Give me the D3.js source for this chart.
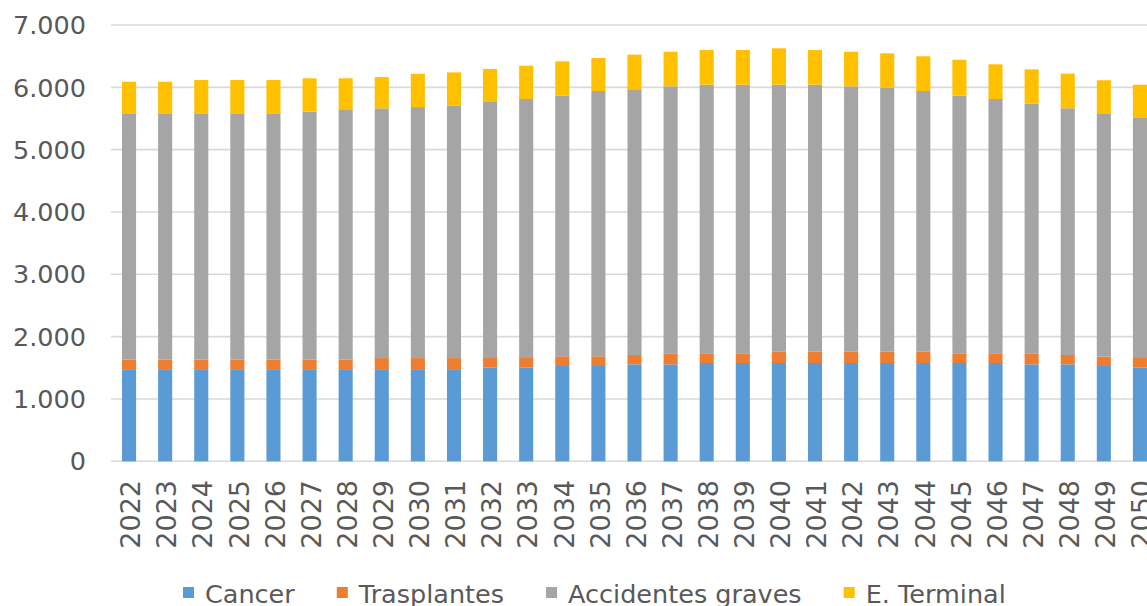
<!DOCTYPE html>
<html>
<head>
<meta charset="utf-8">
<script src="https://cdn.jsdelivr.net/npm/d3@7"></script>
<style>
  html, body { margin: 0; padding: 0; background: #fff; overflow: hidden; }
  svg { display: block; font-family: "DejaVu Sans", Verdana, sans-serif; }
</style>
</head>
<body>
<svg id="chart" width="1147" height="606"></svg>
<script>
const years = ["2022","2023","2024","2025","2026","2027","2028","2029","2030","2031","2032","2033","2034","2035","2036","2037","2038","2039","2040","2041","2042","2043","2044","2045","2046","2047","2048","2049","2050"];
const seriesNames = ["Cancer", "Trasplantes", "Accidentes graves", "E. Terminal"];
const cancer      = [1478,1478,1478,1478,1478,1478,1478,1478,1478,1478,1502,1502,1529,1529,1556,1556,1577,1577,1577,1577,1577,1577,1577,1577,1577,1556,1556,1529,1502];
const trasplantes = [155,155,155,155,155,155,155,178,178,178,155,155,156,156,150,177,156,156,181,181,181,181,181,156,156,177,150,150,155];
const accidentes  = [3950,3950,3950,3950,3950,3976,4003,4006,4027,4054,4108,4156,4180,4256,4263,4283,4309,4309,4284,4284,4258,4236,4183,4132,4080,4004,3958,3905,3851];
const terminal    = [507,507,534,534,534,536,509,502,535,530,529,534,552,529,555,555,557,557,584,557,555,552,557,578,556,552,556,530,534];
const yTicks = [0,1000,2000,3000,4000,5000,6000,7000];
const colors = ["#5B9BD5", "#ED7D31", "#A5A5A5", "#FFC000"];

const table = years.map((y, i) => ({
  year: y,
  "Cancer": cancer[i],
  "Trasplantes": trasplantes[i],
  "Accidentes graves": accidentes[i],
  "E. Terminal": terminal[i]
}));

const svg = d3.select("#chart");
const textColor = "#595959";

const x = d3.scaleBand().domain(years).range([111, 1158]).paddingInner(0.61).paddingOuter(0.305);
const y = d3.scaleLinear().domain([0, 7000]).range([461.3, 25]);

// gridlines
svg.append("g").selectAll("line").data(yTicks).join("line")
  .attr("x1", 111).attr("x2", 1160)
  .attr("y1", d => y(d)).attr("y2", d => y(d))
  .attr("stroke", "#d9d9d9").attr("stroke-width", 1.6);

// y labels
const fmt = d3.formatLocale({decimal: ",", thousands: ".", grouping: [3], currency: ["", "€"]}).format(",d");
svg.append("g").selectAll("text").data(yTicks).join("text")
  .attr("x", 86).attr("y", d => y(d)).attr("dy", "0.36em")
  .attr("text-anchor", "end").attr("fill", textColor)
  .style("font-size", "25.5px")
  .text(d => fmt(d));

// stacked bars
const stack = d3.stack().keys(seriesNames)(table);
svg.append("g").selectAll("g").data(stack).join("g")
  .attr("fill", (d, i) => colors[i])
  .selectAll("rect").data(d => d).join("rect")
  .attr("x", d => x(d.data.year))
  .attr("width", x.bandwidth())
  .attr("y", d => y(d[1]))
  .attr("height", d => y(d[0]) - y(d[1]));

// x labels
svg.append("g").selectAll("text").data(years).join("text")
  .attr("transform", d => `translate(${x(d) + x.bandwidth() / 2 + 1.5},480) rotate(-90)`)
  .attr("dy", "0.36em")
  .attr("text-anchor", "end").attr("fill", textColor)
  .style("font-size", "27px")
  .text(d => d);

// legend
const legend = svg.append("g");
let lx = 183;
seriesNames.forEach((name, i) => {
  legend.append("rect").attr("x", lx).attr("y", 587).attr("width", 11).attr("height", 11).attr("fill", colors[i]);
  const t = legend.append("text").attr("x", lx + 22).attr("y", 603)
    .attr("fill", textColor).style("font-size", "25.5px").text(name);
  lx = lx + 22 + t.node().getComputedTextLength() + 42;
});
</script>
</body>
</html>
